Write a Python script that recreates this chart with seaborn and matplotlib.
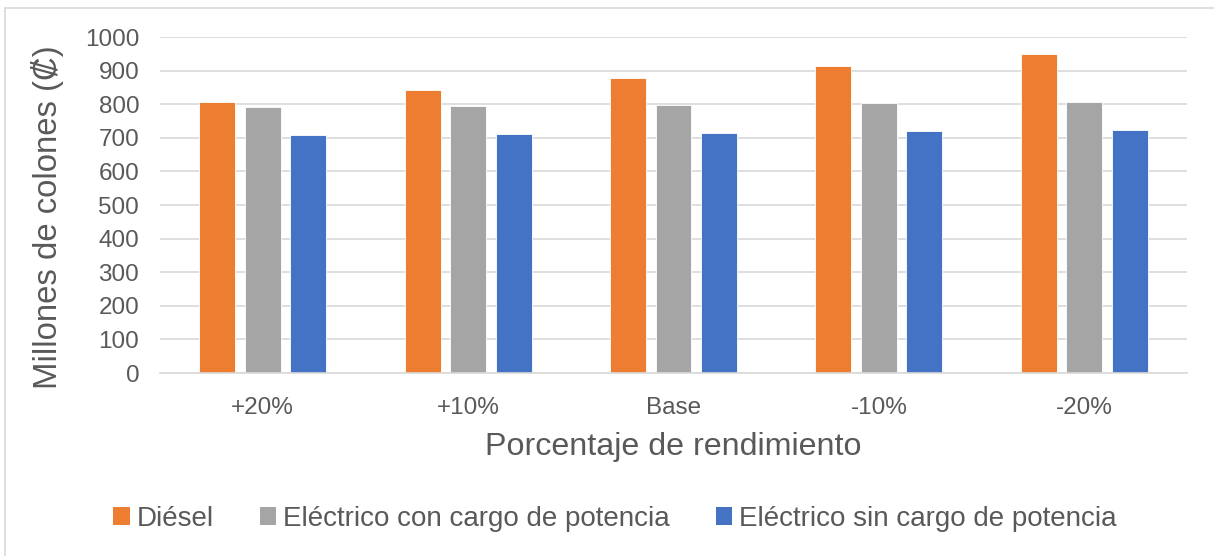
import matplotlib
matplotlib.use("Agg")
import matplotlib.pyplot as plt
from matplotlib.lines import Line2D
from matplotlib.patches import Patch
import seaborn as sns
import pandas as pd

# Costo total por escenario de rendimiento (millones de colones)
categories = ["+20%", "+10%", "Base", "-10%", "-20%"]
series = ["Diésel", "Eléctrico con cargo de potencia", "Eléctrico sin cargo de potencia"]
diesel = [806, 842, 878, 915, 950]
electrico_con = [792, 795, 798, 803, 806]
electrico_sin = [708, 712, 715, 719, 722]
colors = ["#ED7D31", "#A5A5A5", "#4472C4"]

rows = []
for name, vals in zip(series, [diesel, electrico_con, electrico_sin]):
    for cat, v in zip(categories, vals):
        rows.append({"Rendimiento": cat, "Costo": v, "Tecnología": name})
df = pd.DataFrame(rows)

sns.set_theme(style="white")
plt.rcParams["font.family"] = ["Liberation Sans", "DejaVu Sans"]

text_color = "#595959"
grid_color = "#D9D9D9"

fig = plt.figure(figsize=(12.14, 5.56), dpi=100)
ax = fig.add_axes([160 / 1214, 1 - 373 / 556, (1187 - 160) / 1214, (373 - 37) / 556])

sns.barplot(
    data=df, x="Rendimiento", y="Costo", hue="Tecnología",
    order=categories, hue_order=series, palette=colors,
    width=0.665, gap=0.21, errorbar=None,
    edgecolor="white", linewidth=0.6, saturation=1,
    legend=False, ax=ax,
)

ax.set_xlim(-0.5, len(categories) - 0.5)
ax.set_ylim(0, 1000)
ax.set_yticks(range(0, 1001, 100))
ax.yaxis.grid(True, color=grid_color, linewidth=1.2)
ax.xaxis.grid(False)
ax.set_axisbelow(True)
for side in ["left", "right", "top"]:
    ax.spines[side].set_visible(False)
ax.spines["bottom"].set_color(grid_color)
ax.spines["bottom"].set_linewidth(1.2)
ax.tick_params(axis="y", length=0, pad=15, labelsize=17.5, labelcolor=text_color)
ax.tick_params(axis="x", length=0, pad=17, labelsize=17.5, labelcolor=text_color)
ax.set_xlabel("")
ax.set_ylabel("")

fig.text(673.5 / 1214, 1 - 447 / 556, "Porcentaje de rendimiento",
         ha="center", va="center", fontsize=23.2, color=text_color)
fig.text(48 / 1214, 1 - 217 / 556, "Millones de colones (₡)",
         ha="center", va="center", rotation=90, fontsize=23.7, color=text_color)

handles = [Patch(facecolor=c, edgecolor="none") for c in colors]
fig.legend(handles, series, loc="center", bbox_to_anchor=(615 / 1214, 1 - 519 / 556),
           ncol=3, frameon=False, fontsize=20, labelcolor=text_color,
           handlelength=0.6, handleheight=0.6, handletextpad=0.25, columnspacing=1.65)

# Marco exterior del gráfico
fig.add_artist(Line2D([5 / 1214, 5 / 1214], [0, 1 - 8 / 556], transform=fig.transFigure,
                      color=grid_color, linewidth=1.2))
fig.add_artist(Line2D([5 / 1214, 1], [1 - 8 / 556, 1 - 8 / 556], transform=fig.transFigure,
                      color=grid_color, linewidth=1.2))

fig.savefig("out.png", dpi=100)
